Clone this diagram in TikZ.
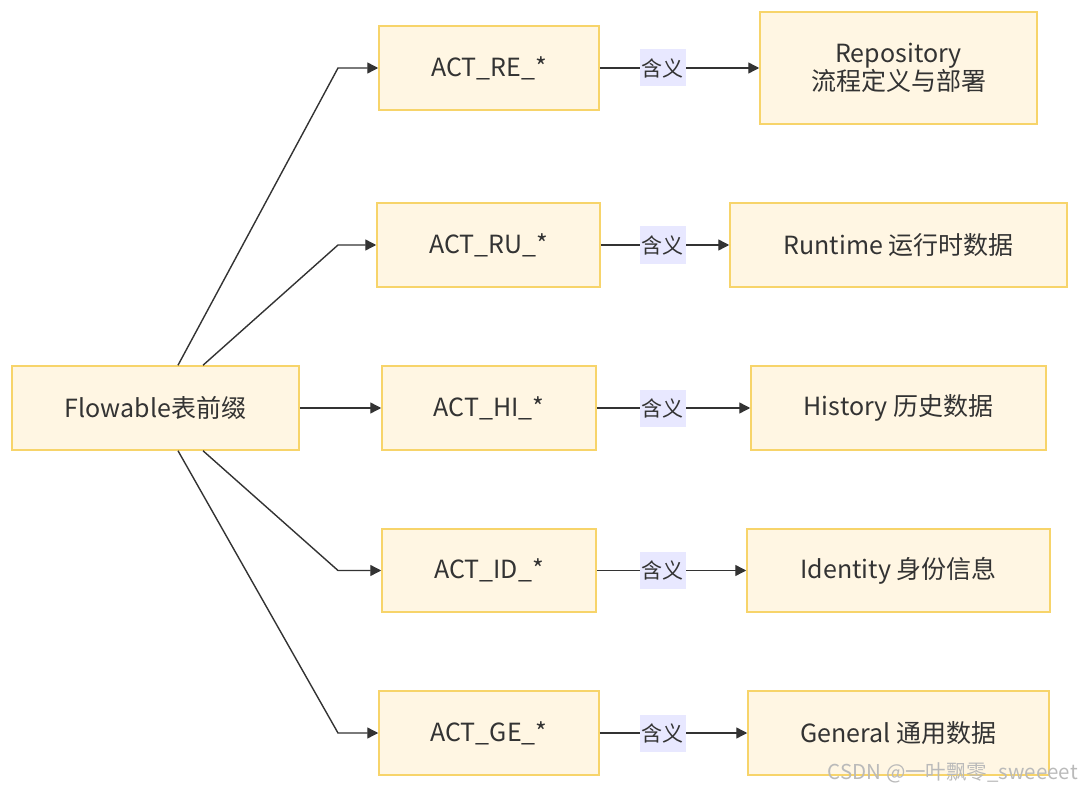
\documentclass[tikz,border=0pt]{standalone}
\usepackage{fontspec}
\setmainfont{Noto Sans CJK SC}
\usetikzlibrary{arrows.meta}
\definecolor{boxfill}{HTML}{FFF6E3}
\definecolor{boxline}{HTML}{F7D46A}
\definecolor{labfill}{HTML}{E8E8FF}
\definecolor{ink}{HTML}{333333}
\begin{document}
\begin{tikzpicture}[x=1pt,y=-1pt,
  box/.style={draw=boxline,line width=1.5pt,fill=boxfill,inner sep=0pt,text=ink,align=center,font=\fontsize{25}{28}\selectfont},
  arr/.style={draw=ink,line width=1.4pt,-{Triangle[length=11pt,width=11pt]}},
  lab/.style={fill=labfill,text=ink,inner sep=2pt,minimum height=37pt,minimum width=46pt,font=\fontsize{21}{24}\selectfont}]
\useasboundingbox (0,0) rectangle (1080,789);
\node[box,minimum width=287pt,minimum height=84pt] (flow) at (155.5,408) {Flowable表前缀};
\node[box,minimum width=220pt,minimum height=84pt] (re) at (489,68) {ACT\_RE\_*};
\node[box,minimum width=223pt,minimum height=84pt] (ru) at (488.5,245) {ACT\_RU\_*};
\node[box,minimum width=214pt,minimum height=84pt] (hi) at (489,408) {ACT\_HI\_*};
\node[box,minimum width=214pt,minimum height=83pt] (id) at (489,570.5) {ACT\_ID\_*};
\node[box,minimum width=220pt,minimum height=84pt] (ge) at (489,733) {ACT\_GE\_*};
\node[box,minimum width=277pt,minimum height=112pt] (rep) at (898.5,68) {Repository\\流程定义与部署};
\node[box,minimum width=337pt,minimum height=84pt] (run) at (898.5,245) {Runtime 运行时数据};
\node[box,minimum width=295pt,minimum height=84pt] (his) at (898.5,408) {History 历史数据};
\node[box,minimum width=303pt,minimum height=83pt] (ide) at (898.5,570.5) {Identity 身份信息};
\node[box,minimum width=301pt,minimum height=84pt] (gen) at (898.5,733) {General 通用数据};
\coordinate (c1) at (338,68);
\coordinate (c2) at (338,245);
\coordinate (c4) at (338,570.5);
\coordinate (c5) at (338,733);
\draw[arr] ([xshift=22.5pt]flow.north) -- (c1) -- (re.west);
\draw[arr] ([xshift=47.5pt]flow.north) -- (c2) -- (ru.west);
\draw[arr] (flow.east) -- (hi.west);
\draw[arr] ([xshift=47.5pt]flow.south) -- (c4) -- (id.west);
\draw[arr] ([xshift=22.5pt]flow.south) -- (c5) -- (ge.west);
\foreach \a/\b/\y/\n in {re/rep/68/l1,ru/run/245/l2,hi/his/408/l3,id/ide/570.5/l4,ge/gen/733/l5}{
  \draw[arr] (\a.east) -- (\b.west);
  \node[lab] (\n) at (662.5,\y) {含义};
}
\node[anchor=south east,text=black!27,inner sep=0pt,font=\fontsize{20.5}{24}\selectfont] (wm) at (1078,783) {CSDN @一叶飘零\_sweeeet};
\end{tikzpicture}
\end{document}
